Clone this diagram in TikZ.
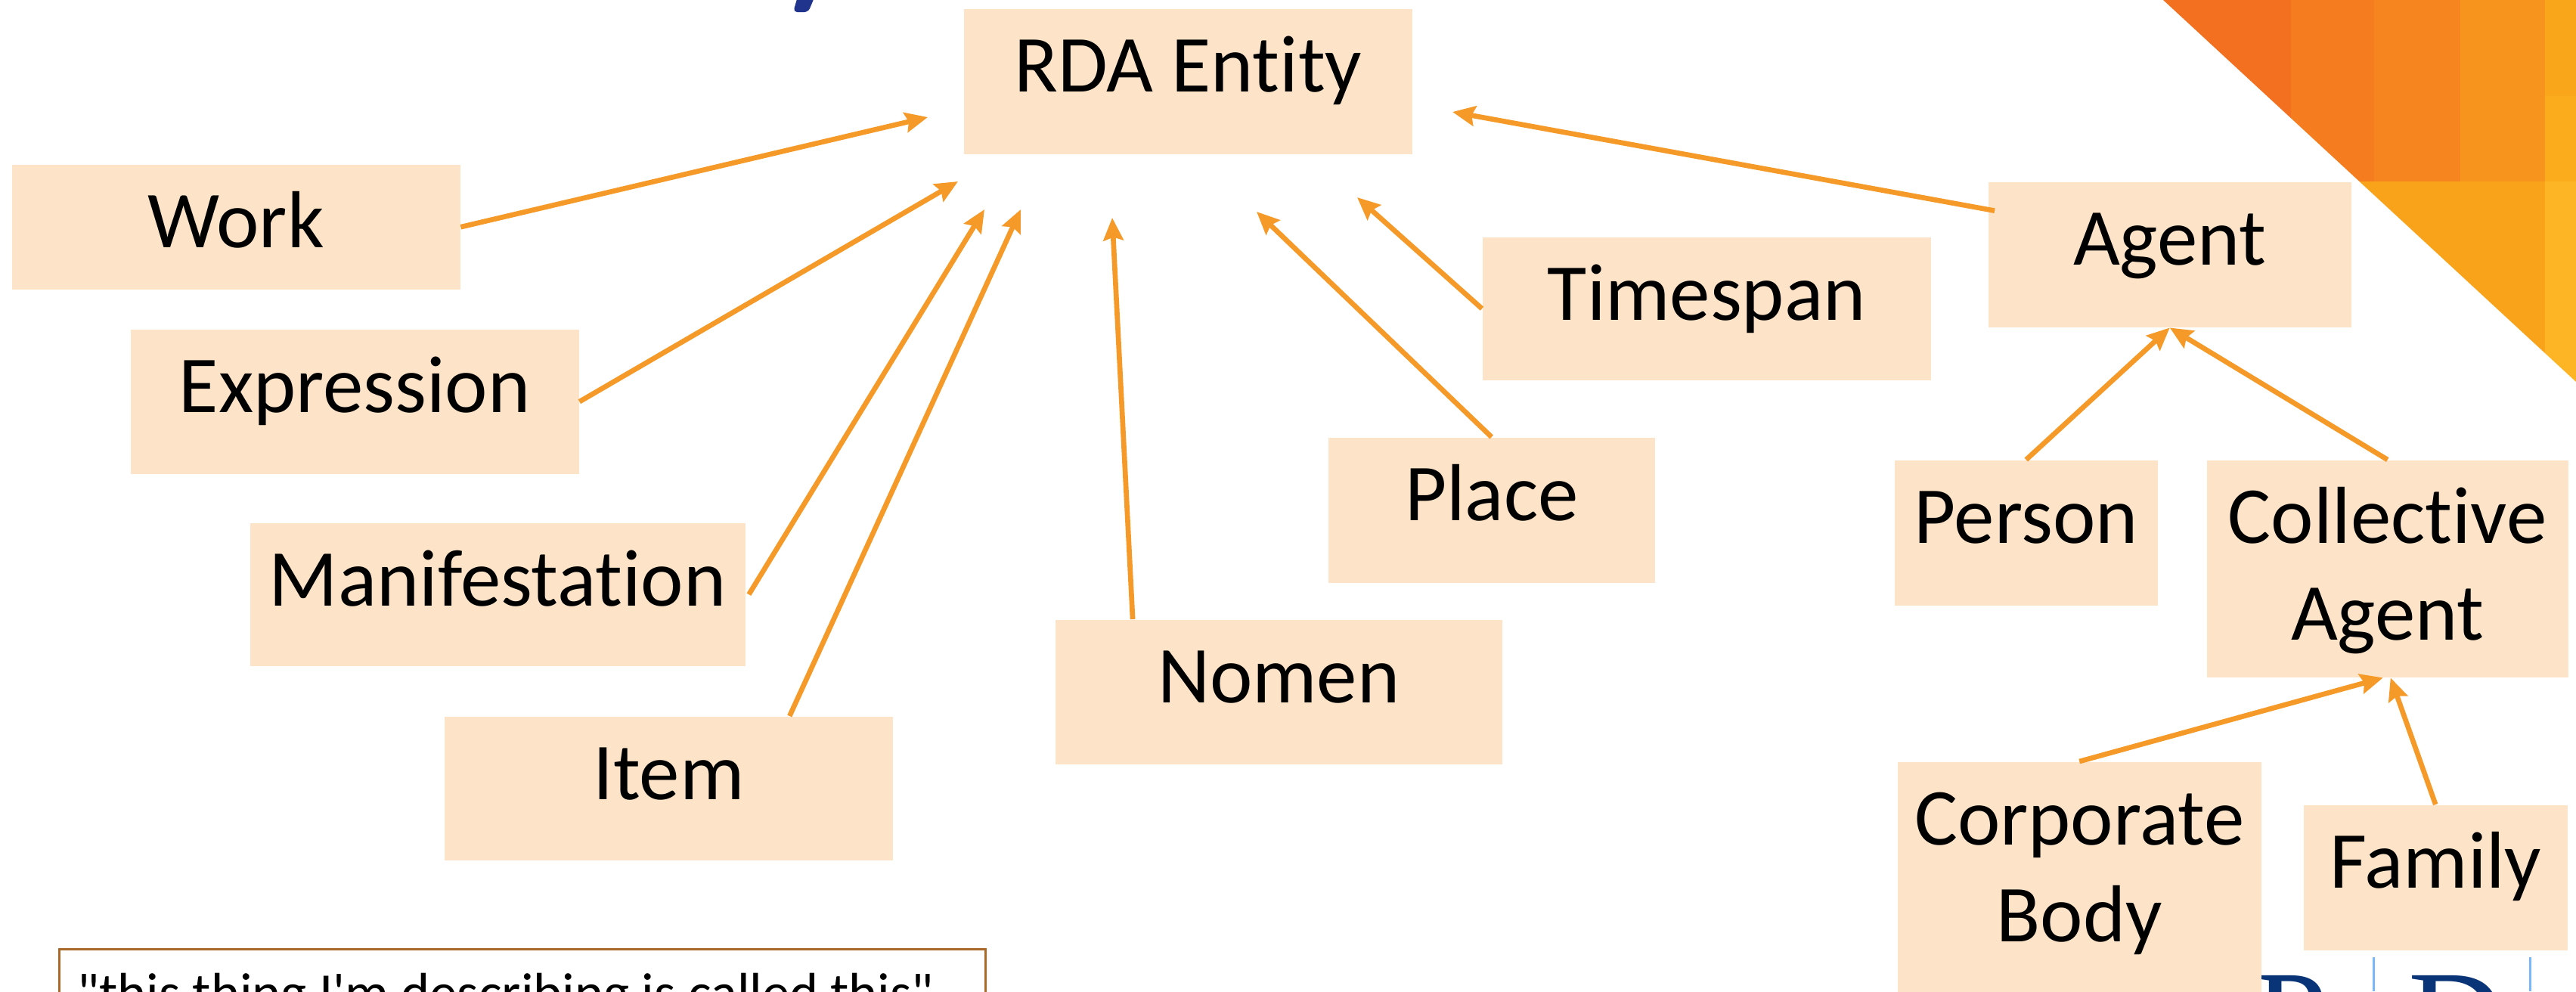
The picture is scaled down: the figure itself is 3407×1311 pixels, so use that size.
\documentclass[tikz,border=0pt]{standalone}
\usepackage{fontspec}
\newfontfamily\boxfont{Carlito}[Ligatures=NoCommon]
\newfontfamily\logofont{Liberation Serif}
\usetikzlibrary{
  arrows.meta,
  positioning,
}
\definecolor{boxfill}{RGB}{253, 228, 200}
\definecolor{arroworange}{RGB}{245, 154, 40}
\definecolor{notebrown}{RGB}{170, 105, 40}
\definecolor{titleblue}{RGB}{32, 52, 142}
\definecolor{logoblue}{RGB}{10, 52, 120}
\definecolor{logoline}{RGB}{120, 184, 250}
\tikzset{
  entity/.style 2 args={
    rectangle,
    fill=boxfill,
    anchor=north west,
    inner sep=0pt,
    align=center,
    minimum width=#1*0.01cm,
    text height=1.10cm,
    text depth=#2*0.01cm-1.10cm,
    font=\boxfont\fontsize{30.4}{36.4}\selectfont,
  },
  twolines/.style={
    text height=2.38cm,
    text depth=#1*0.01cm-2.38cm,
  },
  isa/.style={
    -{Stealth[length=8.5pt,width=7.5pt,inset=1.2pt]},
    line width=1.9pt,
    arroworange,
  },
}

\begin{document}
\begin{tikzpicture}[x=0.01cm,y=-0.01cm]

        \useasboundingbox (0,0) rectangle (3407,1311);

        % corner tiles
        \begin{scope}
          \clip (2861,0) -- (3407,0) -- (3407,505) -- cycle;
          \fill [color={rgb,255:red,243;green,112;blue,33}] (2861,0) rectangle (3030,240);
          \fill [color={rgb,255:red,245;green,125;blue,32}] (3030,0) rectangle (3140,240);
          \fill [color={rgb,255:red,246;green,133;blue,32}] (3140,0) rectangle (3254,240);
          \fill [color={rgb,255:red,247;green,148;blue,30}] (3254,0) rectangle (3366,240);
          \fill [color={rgb,255:red,250;green,166;blue,26}] (3366,0) rectangle (3407,127);
          \fill [color={rgb,255:red,251;green,172;blue,28}] (3366,127) rectangle (3407,240);
          \fill [color={rgb,255:red,249;green,163;blue,27}] (3000,240) rectangle (3366,505);
          \fill [color={rgb,255:red,253;green,181;blue,37}] (3366,240) rectangle (3407,505);
        \end{scope}

        % what is left of the title and the logo
        \fill [titleblue, rounded corners=1.5pt] (1056,-8) -- (1079,-8) -- (1069,16) -- (1049,16) -- cycle;
        \draw [logoline, line width=0.85pt] (3139,1266) -- (3139,1311);
        \draw [logoline, line width=0.85pt] (3346,1266) -- (3346,1311);
        \node (logoP) [anchor=base west, inner sep=0pt, text=logoblue] at (2981,1405) {\fontsize{50}{50}\logofont P};
        \node (logoD) [anchor=base west, inner sep=0pt, text=logoblue] at (3185,1405) {\fontsize{50}{50}\logofont D};

        \node (rda) [entity={593}{192}] at (1274,11) {RDA Entity};
        \node (work) [entity={593}{165}] at (15,217) {Work};
        \node (expression) [entity={593}{191}] at (172,435) {Expression};
        \node (manifestation) [entity={655}{189}] at (330,691) {Manifestation};
        \node (item) [entity={593}{190}] at (587,947) {Item};
        \node (nomen) [entity={591}{191}] at (1395,819) {Nomen};
        \node (place) [entity={432}{192}] at (1756,578) {Place};
        \node (timespan) [entity={593}{189}] at (1960,313) {Timespan};
        \node (agent) [entity={480}{192}] at (2629,240) {Agent};
        \node (person) [entity={348}{192}] at (2505,608) {Person};
        \node (collective) [entity={478}{287},twolines=287] at (2918,608) {Collective\\Agent};
        \node (corporate) [entity={481}{304},twolines=304] at (2509,1007) {Corporate\\Body};
        \node (family) [entity={349}{192}] at (3046,1064) {Family};

        \node (note) [
          draw=notebrown,
          line width=0.8pt,
          anchor=north west,
          inner sep=0pt,
          minimum width=12.24cm,
          text height=0.82cm,
          text depth=0.2cm,
          font=\boxfont\fontsize{20.6}{24}\selectfont,
        ] at (77,1254) {"this thing I'm describing is called this"\kern0.44cm};

        \coordinate (toWork) at (1227,155);
        \coordinate (toExpression) at (1267,240);
        \coordinate (toManifestation) at (1302,277);
        \coordinate (toItem) at (1350,277);
        \coordinate (toNomen) at (1471,288);
        \coordinate (toPlace) at (1662,280);
        \coordinate (toTimespan) at (1795,261);
        \coordinate (toAgent) at (1921,148);

        \draw [isa] (work.east) -- (toWork);
        \draw [isa] (expression.east) -- (toExpression);
        \draw [isa] ([xshift=0.04cm]manifestation.east) -- (toManifestation);
        \draw [isa] ([xshift=1.6cm]item.north) -- (toItem);
        \draw [isa] ([xshift=-1.93cm]nomen.north) -- (toNomen);
        \draw [isa] (place.north) -- (toPlace);
        \draw [isa] (timespan.west) -- (toTimespan);
        \draw [isa] ([xshift=0.09cm,yshift=0.58cm]agent.west) -- (toAgent);

        \draw [isa] (person.north) -- (agent.south);
        \draw [isa] (collective.north) -- (agent.south);
        \draw [isa] (corporate.north) -- ([xshift=-0.06cm]collective.south);
        \draw [isa] (family.north) -- ([xshift=0.04cm]collective.south);
      \end{tikzpicture}
\end{document}
